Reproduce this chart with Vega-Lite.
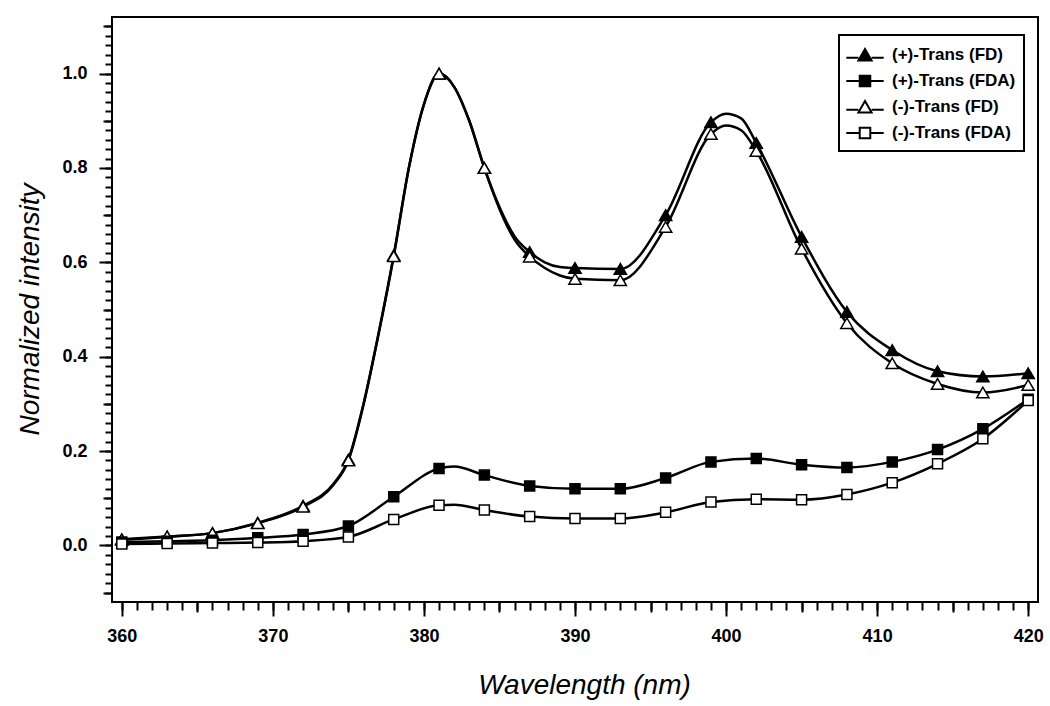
{
  "$schema": "https://vega.github.io/schema/vega-lite/v6.json",
  "width": 926,
  "height": 585,
  "autosize": {"type": "none"},
  "padding": {"left": 112, "top": 17, "right": 12, "bottom": 104},
  "background": "white",
  "config": {
    "view": {"stroke": "black", "strokeWidth": 2},
    "font": "Liberation Sans",
    "axis": {"domain": false, "grid": false, "tickColor": "black", "labelColor": "black", "titleColor": "black"},
    "legend": {"orient": "none", "legendX": 727, "legendY": 18, "padding": 8, "strokeColor": "black", "strokeWidth": 2, "fillColor": "white",
      "symbolSize": 484, "symbolOffset": 6, "symbolStrokeWidth": 2,
      "labelFont": "Liberation Sans", "labelFontWeight": "bold", "labelFontSize": 17, "labelColor": "black",
      "labelOffset": 15, "rowPadding": 4}
  },
  "data": {"values": [
    {"s": "(+)-Trans (FD)", "x": 360, "y": 0.012, "m": 1},
    {"s": "(+)-Trans (FD)", "x": 363, "y": 0.018, "m": 1},
    {"s": "(+)-Trans (FD)", "x": 366, "y": 0.026, "m": 1},
    {"s": "(+)-Trans (FD)", "x": 369, "y": 0.048, "m": 1},
    {"s": "(+)-Trans (FD)", "x": 372, "y": 0.084, "m": 1},
    {"s": "(+)-Trans (FD)", "x": 374, "y": 0.13, "m": 0},
    {"s": "(+)-Trans (FD)", "x": 375, "y": 0.182, "m": 1},
    {"s": "(+)-Trans (FD)", "x": 376, "y": 0.30, "m": 0},
    {"s": "(+)-Trans (FD)", "x": 377, "y": 0.45, "m": 0},
    {"s": "(+)-Trans (FD)", "x": 378, "y": 0.615, "m": 1},
    {"s": "(+)-Trans (FD)", "x": 379, "y": 0.80, "m": 0},
    {"s": "(+)-Trans (FD)", "x": 380, "y": 0.935, "m": 0},
    {"s": "(+)-Trans (FD)", "x": 381, "y": 1.0, "m": 1},
    {"s": "(+)-Trans (FD)", "x": 382, "y": 0.972, "m": 0},
    {"s": "(+)-Trans (FD)", "x": 383, "y": 0.90, "m": 0},
    {"s": "(+)-Trans (FD)", "x": 384, "y": 0.80, "m": 1},
    {"s": "(+)-Trans (FD)", "x": 385, "y": 0.717, "m": 0},
    {"s": "(+)-Trans (FD)", "x": 386, "y": 0.655, "m": 0},
    {"s": "(+)-Trans (FD)", "x": 387, "y": 0.622, "m": 1},
    {"s": "(+)-Trans (FD)", "x": 388, "y": 0.600, "m": 0},
    {"s": "(+)-Trans (FD)", "x": 389, "y": 0.590, "m": 0},
    {"s": "(+)-Trans (FD)", "x": 390, "y": 0.588, "m": 1},
    {"s": "(+)-Trans (FD)", "x": 393, "y": 0.586, "m": 1},
    {"s": "(+)-Trans (FD)", "x": 396, "y": 0.700, "m": 1},
    {"s": "(+)-Trans (FD)", "x": 399, "y": 0.897, "m": 1},
    {"s": "(+)-Trans (FD)", "x": 400, "y": 0.915, "m": 0},
    {"s": "(+)-Trans (FD)", "x": 401, "y": 0.905, "m": 0},
    {"s": "(+)-Trans (FD)", "x": 402, "y": 0.853, "m": 1},
    {"s": "(+)-Trans (FD)", "x": 405, "y": 0.654, "m": 1},
    {"s": "(+)-Trans (FD)", "x": 408, "y": 0.495, "m": 1},
    {"s": "(+)-Trans (FD)", "x": 411, "y": 0.414, "m": 1},
    {"s": "(+)-Trans (FD)", "x": 414, "y": 0.369, "m": 1},
    {"s": "(+)-Trans (FD)", "x": 417, "y": 0.358, "m": 1},
    {"s": "(+)-Trans (FD)", "x": 420, "y": 0.365, "m": 1},

    {"s": "(+)-Trans (FDA)", "x": 360, "y": 0.007, "m": 1},
    {"s": "(+)-Trans (FDA)", "x": 363, "y": 0.009, "m": 1},
    {"s": "(+)-Trans (FDA)", "x": 366, "y": 0.011, "m": 1},
    {"s": "(+)-Trans (FDA)", "x": 369, "y": 0.016, "m": 1},
    {"s": "(+)-Trans (FDA)", "x": 372, "y": 0.023, "m": 1},
    {"s": "(+)-Trans (FDA)", "x": 375, "y": 0.041, "m": 1},
    {"s": "(+)-Trans (FDA)", "x": 378, "y": 0.103, "m": 1},
    {"s": "(+)-Trans (FDA)", "x": 381, "y": 0.163, "m": 1},
    {"s": "(+)-Trans (FDA)", "x": 382, "y": 0.167, "m": 0},
    {"s": "(+)-Trans (FDA)", "x": 384, "y": 0.149, "m": 1},
    {"s": "(+)-Trans (FDA)", "x": 387, "y": 0.126, "m": 1},
    {"s": "(+)-Trans (FDA)", "x": 390, "y": 0.120, "m": 1},
    {"s": "(+)-Trans (FDA)", "x": 393, "y": 0.120, "m": 1},
    {"s": "(+)-Trans (FDA)", "x": 396, "y": 0.143, "m": 1},
    {"s": "(+)-Trans (FDA)", "x": 399, "y": 0.177, "m": 1},
    {"s": "(+)-Trans (FDA)", "x": 402, "y": 0.184, "m": 1},
    {"s": "(+)-Trans (FDA)", "x": 405, "y": 0.171, "m": 1},
    {"s": "(+)-Trans (FDA)", "x": 408, "y": 0.165, "m": 1},
    {"s": "(+)-Trans (FDA)", "x": 411, "y": 0.177, "m": 1},
    {"s": "(+)-Trans (FDA)", "x": 414, "y": 0.203, "m": 1},
    {"s": "(+)-Trans (FDA)", "x": 417, "y": 0.247, "m": 1},
    {"s": "(+)-Trans (FDA)", "x": 420, "y": 0.310, "m": 1},

    {"s": "(-)-Trans (FD)", "x": 360, "y": 0.013, "m": 1},
    {"s": "(-)-Trans (FD)", "x": 363, "y": 0.019, "m": 1},
    {"s": "(-)-Trans (FD)", "x": 366, "y": 0.026, "m": 1},
    {"s": "(-)-Trans (FD)", "x": 369, "y": 0.047, "m": 1},
    {"s": "(-)-Trans (FD)", "x": 372, "y": 0.082, "m": 1},
    {"s": "(-)-Trans (FD)", "x": 374, "y": 0.128, "m": 0},
    {"s": "(-)-Trans (FD)", "x": 375, "y": 0.180, "m": 1},
    {"s": "(-)-Trans (FD)", "x": 376, "y": 0.298, "m": 0},
    {"s": "(-)-Trans (FD)", "x": 377, "y": 0.448, "m": 0},
    {"s": "(-)-Trans (FD)", "x": 378, "y": 0.613, "m": 1},
    {"s": "(-)-Trans (FD)", "x": 379, "y": 0.80, "m": 0},
    {"s": "(-)-Trans (FD)", "x": 380, "y": 0.935, "m": 0},
    {"s": "(-)-Trans (FD)", "x": 381, "y": 1.0, "m": 1},
    {"s": "(-)-Trans (FD)", "x": 382, "y": 0.972, "m": 0},
    {"s": "(-)-Trans (FD)", "x": 383, "y": 0.90, "m": 0},
    {"s": "(-)-Trans (FD)", "x": 384, "y": 0.80, "m": 1},
    {"s": "(-)-Trans (FD)", "x": 385, "y": 0.713, "m": 0},
    {"s": "(-)-Trans (FD)", "x": 386, "y": 0.648, "m": 0},
    {"s": "(-)-Trans (FD)", "x": 387, "y": 0.612, "m": 1},
    {"s": "(-)-Trans (FD)", "x": 388, "y": 0.588, "m": 0},
    {"s": "(-)-Trans (FD)", "x": 389, "y": 0.572, "m": 0},
    {"s": "(-)-Trans (FD)", "x": 390, "y": 0.565, "m": 1},
    {"s": "(-)-Trans (FD)", "x": 393, "y": 0.562, "m": 1},
    {"s": "(-)-Trans (FD)", "x": 396, "y": 0.675, "m": 1},
    {"s": "(-)-Trans (FD)", "x": 399, "y": 0.872, "m": 1},
    {"s": "(-)-Trans (FD)", "x": 400, "y": 0.890, "m": 0},
    {"s": "(-)-Trans (FD)", "x": 401, "y": 0.880, "m": 0},
    {"s": "(-)-Trans (FD)", "x": 402, "y": 0.836, "m": 1},
    {"s": "(-)-Trans (FD)", "x": 405, "y": 0.629, "m": 1},
    {"s": "(-)-Trans (FD)", "x": 408, "y": 0.471, "m": 1},
    {"s": "(-)-Trans (FD)", "x": 411, "y": 0.386, "m": 1},
    {"s": "(-)-Trans (FD)", "x": 414, "y": 0.342, "m": 1},
    {"s": "(-)-Trans (FD)", "x": 417, "y": 0.324, "m": 1},
    {"s": "(-)-Trans (FD)", "x": 420, "y": 0.340, "m": 1},

    {"s": "(-)-Trans (FDA)", "x": 360, "y": 0.003, "m": 1},
    {"s": "(-)-Trans (FDA)", "x": 363, "y": 0.004, "m": 1},
    {"s": "(-)-Trans (FDA)", "x": 366, "y": 0.005, "m": 1},
    {"s": "(-)-Trans (FDA)", "x": 369, "y": 0.006, "m": 1},
    {"s": "(-)-Trans (FDA)", "x": 372, "y": 0.009, "m": 1},
    {"s": "(-)-Trans (FDA)", "x": 375, "y": 0.018, "m": 1},
    {"s": "(-)-Trans (FDA)", "x": 378, "y": 0.055, "m": 1},
    {"s": "(-)-Trans (FDA)", "x": 381, "y": 0.085, "m": 1},
    {"s": "(-)-Trans (FDA)", "x": 382, "y": 0.086, "m": 0},
    {"s": "(-)-Trans (FDA)", "x": 384, "y": 0.075, "m": 1},
    {"s": "(-)-Trans (FDA)", "x": 387, "y": 0.061, "m": 1},
    {"s": "(-)-Trans (FDA)", "x": 390, "y": 0.057, "m": 1},
    {"s": "(-)-Trans (FDA)", "x": 393, "y": 0.057, "m": 1},
    {"s": "(-)-Trans (FDA)", "x": 396, "y": 0.070, "m": 1},
    {"s": "(-)-Trans (FDA)", "x": 399, "y": 0.092, "m": 1},
    {"s": "(-)-Trans (FDA)", "x": 402, "y": 0.098, "m": 1},
    {"s": "(-)-Trans (FDA)", "x": 405, "y": 0.097, "m": 1},
    {"s": "(-)-Trans (FDA)", "x": 408, "y": 0.108, "m": 1},
    {"s": "(-)-Trans (FDA)", "x": 411, "y": 0.133, "m": 1},
    {"s": "(-)-Trans (FDA)", "x": 414, "y": 0.173, "m": 1},
    {"s": "(-)-Trans (FDA)", "x": 417, "y": 0.226, "m": 1},
    {"s": "(-)-Trans (FDA)", "x": 420, "y": 0.307, "m": 1}
  ]},
  "resolve": {"axis": {"x": "independent", "y": "independent"}, "scale": {"shape": "independent", "fill": "independent"}},
  "layer": [
    {
      "transform": [{"filter": "false"}],
      "mark": {"type": "point", "filled": false, "stroke": "black", "strokeWidth": 2, "opacity": 1},
      "encoding": {
        "x": {"field": "x", "type": "quantitative",
          "scale": {"domain": [359.35, 420.65], "nice": false, "zero": false}, "axis": null},
        "y": {"field": "y", "type": "quantitative",
          "scale": {"domain": [-0.12, 1.12], "nice": false, "zero": false}, "axis": null},
        "shape": {"field": "s", "type": "nominal",
          "scale": {"domain": ["(+)-Trans (FD)", "(+)-Trans (FDA)", "(-)-Trans (FD)", "(-)-Trans (FDA)"],
            "range": ["M-1.7,0.25H-0.6M0.6,0.25H1.7M-0.6,0.5L0,-0.55L0.6,0.5Z", "M-1.7,0H-0.48M0.48,0H1.7M-0.48,-0.48H0.48V0.48H-0.48Z", "M-1.7,0.25H-0.6M0.6,0.25H1.7M-0.6,0.5L0,-0.55L0.6,0.5Z", "M-1.7,0H-0.48M0.48,0H1.7M-0.48,-0.48H0.48V0.48H-0.48Z"]},
          "legend": {"title": null}},
        "fill": {"field": "s", "type": "nominal",
          "scale": {"domain": ["(+)-Trans (FD)", "(+)-Trans (FDA)", "(-)-Trans (FD)", "(-)-Trans (FDA)"], "range": ["black", "black", "white", "white"]},
          "legend": {"title": null}}
      }
    },
    {
      "mark": {"type": "line", "interpolate": "monotone", "stroke": "black", "strokeWidth": 2.5},
      "encoding": {
        "x": {"field": "x", "type": "quantitative",
          "scale": {"domain": [359.35, 420.65], "nice": false, "zero": false},
          "axis": {"orient": "bottom", "values": [360, 370, 380, 390, 400, 410, 420], "tickSize": 14, "tickWidth": 2,
            "labelFont": "Liberation Sans", "labelFontWeight": "bold", "labelFontSize": 18, "labelPadding": 11,
            "title": "Wavelength (nm)", "titleFont": "Liberation Sans", "titleFontStyle": "italic", "titleFontWeight": "normal",
            "titleFontSize": 28, "titleX": 472, "titleY": 83, "titleAlign": "center", "titleBaseline": "middle"}},
        "y": {"field": "y", "type": "quantitative",
          "scale": {"domain": [-0.12, 1.12], "nice": false, "zero": false},
          "axis": {"orient": "left", "values": [0, 0.2, 0.4, 0.6, 0.8, 1.0], "format": ".1f", "tickSize": 13, "tickWidth": 2,
            "labelFont": "Liberation Sans", "labelFontWeight": "bold", "labelFontSize": 18, "labelPadding": 12,
            "title": "Normalized intensity", "titleFont": "Liberation Sans", "titleFontStyle": "italic", "titleFontWeight": "normal",
            "titleFontSize": 28, "titleX": -82, "titleY": 292, "titleAngle": 270, "titleAlign": "center", "titleBaseline": "middle"}},
        "detail": {"field": "s"}
      }
    },
    {
      "mark": {"type": "line", "interpolate": "monotone", "opacity": 0},
      "encoding": {
        "x": {"field": "x", "type": "quantitative",
          "scale": {"domain": [359.35, 420.65], "nice": false, "zero": false},
          "axis": {"orient": "bottom", "values": [365, 375, 385, 395, 405, 415], "tickSize": 10, "tickWidth": 2, "labels": false, "title": null}},
        "y": {"field": "y", "type": "quantitative",
          "scale": {"domain": [-0.12, 1.12], "nice": false, "zero": false},
          "axis": {"orient": "left", "values": [-0.1, 0.1, 0.3, 0.5, 0.7, 0.9, 1.1], "tickSize": 9, "tickWidth": 2, "labels": false, "title": null}},
        "detail": {"field": "s"}
      }
    },
    {
      "transform": [{"filter": "datum.m == 1 && indexof(datum.s, 'FDA') < 0"}],
      "mark": {"type": "point", "shape": "triangle-up", "filled": false, "stroke": "black", "strokeWidth": 1.5, "opacity": 1, "size": 150},
      "encoding": {
        "x": {"field": "x", "type": "quantitative",
          "scale": {"domain": [359.35, 420.65], "nice": false, "zero": false},
          "axis": {"orient": "bottom", "values": [360,361,362,363,364,365,366,367,368,369,370,371,372,373,374,375,376,377,378,379,380,381,382,383,384,385,386,387,388,389,390,391,392,393,394,395,396,397,398,399,400,401,402,403,404,405,406,407,408,409,410,411,412,413,414,415,416,417,418,419,420], "tickSize": 8, "tickWidth": 2, "labels": false, "title": null}},
        "y": {"field": "y", "type": "quantitative",
          "scale": {"domain": [-0.12, 1.12], "nice": false, "zero": false},
          "axis": {"orient": "left", "values": [-0.1,-0.08,-0.06,-0.04,-0.02,0,0.02,0.04,0.06,0.08,0.1,0.12,0.14,0.16,0.18,0.2,0.22,0.24,0.26,0.28,0.3,0.32,0.34,0.36,0.38,0.4,0.42,0.44,0.46,0.48,0.5,0.52,0.54,0.56,0.58,0.6,0.62,0.64,0.66,0.68,0.7,0.72,0.74,0.76,0.78,0.8,0.82,0.84,0.86,0.88,0.9,0.92,0.94,0.96,0.98,1.0,1.02,1.04,1.06,1.08,1.1], "tickSize": 7, "tickWidth": 2, "labels": false, "title": null}},
        "fill": {"field": "s", "type": "nominal",
          "scale": {"domain": ["(+)-Trans (FD)", "(+)-Trans (FDA)", "(-)-Trans (FD)", "(-)-Trans (FDA)"], "range": ["black", "black", "white", "white"]},
          "legend": null}
      }
    },
    {
      "transform": [{"filter": "datum.m == 1 && indexof(datum.s, 'FDA') >= 0"}],
      "mark": {"type": "point", "shape": "square", "filled": false, "stroke": "black", "strokeWidth": 1.5, "opacity": 1, "size": 100},
      "encoding": {
        "x": {"field": "x", "type": "quantitative",
          "scale": {"domain": [359.35, 420.65], "nice": false, "zero": false}, "axis": null},
        "y": {"field": "y", "type": "quantitative",
          "scale": {"domain": [-0.12, 1.12], "nice": false, "zero": false}, "axis": null},
        "fill": {"field": "s", "type": "nominal",
          "scale": {"domain": ["(+)-Trans (FD)", "(+)-Trans (FDA)", "(-)-Trans (FD)", "(-)-Trans (FDA)"], "range": ["black", "black", "white", "white"]},
          "legend": null}
      }
    }
  ]
}
